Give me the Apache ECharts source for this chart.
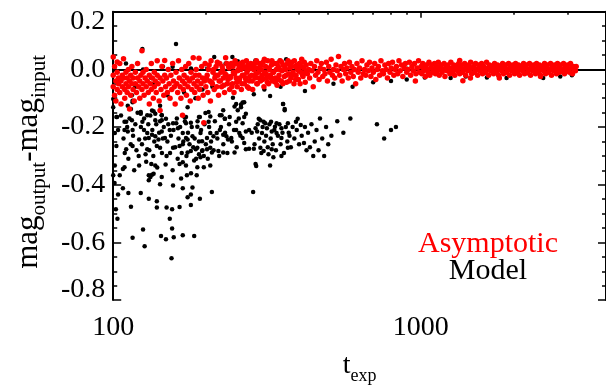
<!DOCTYPE html>
<html><head><meta charset="utf-8">
<script src="https://cdn.jsdelivr.net/npm/echarts@6/dist/echarts.min.js"></script>
<style>html,body{margin:0;padding:0;background:#fff}#c{width:606px;height:390px}</style>
</head><body><div id="c"></div>
<script>
const seriesNames = ['Asymptotic', 'Model'];
const xMajorTicks = [100, 1000];
const xMinorTicks = [200, 300, 400, 500, 600, 700, 800, 900, 2000, 3000];
const xRange = [100, 4000];
const yRange = [-0.8, 0.2];

const asymptoticLow = [
[100,-0.02],[100,-0.06],[100,0.043],[101,0.01],[101,-0.09],[102,-0.04],[102,-0.11],[103,0.026],[103,-0.01],[103,-0.07],[104,-0.03],[104,-0.05],[105,0.02],[105,-0.08],[106,-0.04],[106,-0.12],[107,-0.02],[107,-0.06],[108,0.037],[108,-0.03],[109,-0.07],[109,-0.1],[110,-0.01],[110,-0.05],[111,-0.03],[111,-0.08],[112,0.0],[112,-0.06],[113,-0.04],[113,-0.137],[114,-0.02],[114,-0.09],[115,-0.05],[115,0.01],[116,-0.07],[116,-0.03],[117,-0.11],[118,-0.01],[118,-0.05],[119,-0.08],[120,-0.03],[120,0.02],[121,-0.06],[122,-0.04],[122,-0.1],[123,-0.02],[124,0.065],[124,-0.07],[125,-0.05],[125,-0.01],[126,-0.09],[127,-0.03],[128,-0.06],[128,0.0],[129,-0.04],[130,-0.08],[131,-0.02],[131,-0.12],[132,-0.05],[133,0.02],[133,-0.07],[134,-0.03],[135,-0.1],[136,-0.01],[136,-0.06],[137,-0.04],[138,-0.08],[139,0.03],[139,-0.02],[140,-0.05],[141,-0.11],[142,-0.03],[142,-0.143],[143,-0.07],[144,0.01],[145,-0.04],[146,-0.09],[147,0.031],[147,-0.02],[148,-0.06],[149,-0.03],[150,-0.08],[151,0.0],[152,-0.05],[153,-0.1],[154,-0.02],[155,-0.07],[156,0.02],[157,-0.04],[158,-0.06],[159,-0.12],[160,-0.01],[161,-0.05],[162,-0.08],[163,0.03],[164,-0.03],[165,-0.06],[166,-0.1],[167,0.0],[168,-0.159],[168,-0.04],[169,-0.07],[170,-0.02],[171,-0.05],[172,0.01],[173,-0.09],[174,-0.03],[175,-0.06],[176,0.02],[177,-0.04],[178,-0.11],[179,-0.01],[180,-0.07],[181,-0.03],[182,0.04],[183,-0.05],[184,-0.08],[185,-0.02],[186,0.0],[187,-0.06],[188,-0.04],[189,-0.1],[190,0.039],[190,-0.02],[191,-0.07],[193,-0.05],[194,0.01],[195,-0.03],[196,-0.09],[197,-0.185],[198,-0.04],[199,0.02],[200,-0.06]
];
const asymptoticMid = [
[201,-0.03],[202,-0.02],[203,-0.08],[204,0.0],[205,0.015],[206,-0.04],[207,-0.11],[208,0.03],[209,-0.045],[210,-0.05],[211,-0.01],[212,0.0],[213,-0.07],[214,-0.03],[215,-0.02],[216,0.01],[217,-0.06],[218,0.025],[219,-0.02],[220,-0.09],[221,-0.04],[222,0.02],[223,-0.04],[224,-0.01],[225,-0.06],[226,0.01],[227,0.0],[228,-0.03],[229,-0.055],[230,-0.08],[231,-0.015],[232,0.04],[233,-0.02],[234,0.02],[235,-0.05],[236,-0.035],[237,0.01],[238,0.005],[239,-0.07],[240,-0.03],[241,-0.025],[242,0.02],[243,-0.06],[244,-0.05],[245,0.01],[246,-0.01],[247,-0.08],[248,-0.015],[249,0.03],[250,0.02],[251,-0.03],[252,-0.045],[253,-0.06],[254,-0.005],[255,0.0],[256,0.015],[257,-0.04],[258,-0.03],[259,0.02],[260,0.0],[261,-0.07],[262,-0.05],[263,-0.02],[264,0.025],[265,0.01],[266,-0.02],[267,-0.05],[268,0.005],[269,-0.03],[270,-0.035],[271,0.03],[272,-0.01],[273,-0.06],[274,0.015],[275,0.0],[276,-0.065],[277,-0.04],[278,-0.025],[280,0.02],[281,0.01],[282,-0.02],[283,-0.04],[284,-0.07],[286,0.0],[287,0.01],[288,0.02],[289,-0.03],[291,-0.015],[292,0.03],[293,-0.05],[294,-0.05],[296,0.005],[297,-0.01],[298,-0.03],[299,0.02],
[301,-0.04],[302,0.015],[303,0.0],[305,-0.02],[306,-0.035],[307,0.025],[309,-0.06],[310,0.035],[311,-0.01],[313,0.01],[314,-0.015],[315,-0.03],[317,-0.045],[318,0.03],[320,-0.05],[321,0.005],[322,0.0],[324,-0.02],[325,-0.03],[327,0.015],[328,0.03],[329,-0.04],[331,-0.01],[332,-0.01],[334,0.02],[336,-0.03],[337,-0.045],[339,0.0],[340,0.02],[341,-0.055],[344,0.01],[345,-0.035],[346,-0.02],[348,0.0],[349,0.03],[352,-0.04],[353,0.025],[354,-0.005],[356,-0.05],[357,0.015],[360,-0.025],[361,0.01],[363,0.0],[365,-0.02],[366,-0.045],[369,0.02],[370,0.03],[372,-0.015],[374,-0.04],[375,0.005],[378,-0.03],[379,0.01],[381,0.025],[383,-0.02],[384,-0.01],[387,-0.05],[388,0.03],[390,0.01],[392,-0.035],[393,-0.02],[396,0.015],[397,0.0],[400,-0.035],[401,-0.005],[403,0.02],[405,-0.05],[407,-0.01],[409,0.01],[410,0.035],[413,-0.02],[414,-0.025],[417,0.005],[418,0.025],[421,-0.045],[422,-0.01],[424,0.015],[428,-0.015],[432,0.0],[435,-0.03],[439,0.02],[443,-0.005],[447,-0.06],[451,0.01],[455,-0.02],[459,0.03],[463,-0.01],[467,-0.035],[471,0.005],[475,0.02],[480,-0.025],[484,0.0],[488,-0.015],[493,0.025],[497,-0.04],[502,0.01],[506,-0.01],[511,0.035],[516,-0.02],[520,0.0],[525,-0.03],[530,0.015],[535,-0.005],[540,0.045],[545,-0.02],[550,0.01],[555,-0.04],[560,0.0],[565,0.02],[570,-0.015],[575,0.005],[581,-0.03],[586,0.025],[592,-0.01],[597,0.01],[603,-0.025],[608,0.0],[614,-0.05],[620,0.02],[626,-0.01],[632,0.005],[638,-0.03],[644,0.03],[650,-0.015],[656,0.0],[662,-0.02],[668,0.015],[675,-0.005],[681,0.025],[688,-0.025],[694,0.005],[701,-0.01],[708,0.02],[714,-0.035],[721,0.0],[728,0.01],[735,-0.02],[742,0.03],[749,-0.005],[756,-0.015],[764,0.015],[771,0.0],[779,-0.03],[786,0.02],[794,-0.01],[801,0.005],[809,0.025],[817,-0.02],[825,0.0],[833,0.01],[841,-0.015],[849,0.03],[857,-0.005],[866,0.015],[874,-0.025],[883,0.005],[891,0.02],[900,-0.01],[909,0.0],[918,0.025],[927,-0.02],[936,0.01],[945,-0.005],[954,0.02],[960,-0.04],[964,-0.015],[973,0.005],[983,0.03],[992,-0.01]
];
const asymptoticHigh = [
[1002,0.01],[1008,-0.015],[1015,0.02],[1021,-0.005],[1028,0.005],[1035,-0.025],[1042,0.015],[1049,0.0],[1056,-0.01],[1063,0.025],[1070,-0.02],[1078,0.005],[1085,0.015],[1093,-0.01],[1100,0.0],[1108,0.02],[1116,-0.015],[1124,0.01],[1132,-0.005],[1140,0.025],[1148,-0.02],[1156,0.005],[1164,0.015],[1173,-0.01],[1181,0.0],[1190,0.02],[1198,-0.025],[1207,0.01],[1216,-0.005],[1225,0.015],[1234,0.0],[1243,-0.015],[1252,0.025],[1261,0.005],[1270,-0.01],[1280,0.015],[1289,-0.02],[1299,0.0],[1308,0.01],[1318,-0.005],[1328,0.02],[1338,0.031],[1338,-0.015],[1348,0.005],[1358,0.015],[1368,-0.01],[1370,-0.039],[1378,0.0],[1389,0.02],[1399,-0.02],[1410,0.01],[1420,-0.005],[1431,0.015],[1441,0.0],[1450,-0.03],[1452,0.025],[1463,-0.015],[1474,0.005],[1485,0.01],[1496,-0.01],[1507,0.02],[1518,0.0],[1530,-0.02],[1541,0.015],[1553,-0.005],[1564,0.005],[1576,0.02],[1588,-0.015],[1600,0.01],[1612,0.0],[1624,-0.01],[1636,0.025],[1648,0.005],[1661,-0.02],[1673,0.015],[1686,-0.005],[1698,0.01],[1711,0.0],[1724,-0.015],[1737,0.02],[1750,0.005],[1763,-0.01],[1776,0.015],[1790,-0.02],[1800,-0.03],[1803,0.0],[1817,0.01],[1831,-0.005],[1845,0.02],[1858,-0.015],[1872,0.005],[1886,0.015],[1901,-0.01],[1915,0.0],[1929,0.02],[1944,-0.02],[1958,0.01],[1973,-0.005],[1988,0.015],[2003,0.0],[2018,-0.015],[2033,0.02],[2048,0.005],[2064,-0.01],[2079,0.015],[2095,-0.02],[2110,0.0],[2126,0.01],[2142,-0.005],[2158,0.02],[2174,-0.015],[2191,0.005],[2207,0.015],[2224,-0.01],[2240,0.0],[2257,0.02],[2274,-0.02],[2291,0.01],[2308,-0.005],[2326,0.015],[2343,0.0],[2361,-0.015],[2378,0.02],[2396,0.005],[2414,-0.01],[2432,0.015],[2450,-0.025],[2451,-0.02],[2469,0.0],[2488,0.01],[2506,-0.005],[2525,0.02],[2544,-0.015],[2563,0.005],[2582,0.015],[2601,-0.01],[2621,0.0],[2641,0.02],[2660,-0.02],[2680,0.01],[2700,-0.005],[2720,0.015],[2741,0.0],[2761,-0.015],[2782,0.02],[2803,0.005],[2824,-0.01],[2845,0.015],[2866,-0.005],[2888,0.0],[2910,0.02],[2931,-0.015],[2953,0.01],[2975,-0.005],[2998,0.015],[3020,0.0],[3043,-0.01],[3066,0.02],[3089,0.005],[3112,-0.015],[3135,0.01],[3158,0.0],[3182,-0.005],[3200,0.01]
];

const modelCloud = [
[102,-0.109],[115.6,-0.114],[114.2,-0.137],[122.9,-0.148],[135.3,-0.145],[143.8,-0.159],[174.5,-0.131],[204.2,-0.148],[227.8,-0.142],[248,-0.129],[254,-0.142],[260.3,-0.122],[266.6,-0.114],[269.9,-0.154],[356.6,-0.12],[360.9,-0.142],
[102.9,-0.165],[110.2,-0.182],[115,-0.176],[124.4,-0.182],[129,-0.159],[137,-0.176],[143.8,-0.176],[148.4,-0.171],[160.3,-0.187],[172.4,-0.165],[178.8,-0.185],[191.3,-0.165],[199.4,-0.151],[206.8,-0.163],[222.2,-0.159],[230.6,-0.171],[239.1,-0.165],[251,-0.182],[263.4,-0.187],[300.9,-0.176],[312,-0.187],[326,-0.182],[335.6,-0.199],[352.3,-0.204],[369.7,-0.187],[392.7,-0.182],[290.2,-0.204],
[101.2,-0.221],[103.7,-0.21],[108.8,-0.21],[111.5,-0.215],[115.6,-0.21],[121.4,-0.243],[125.9,-0.21],[129,-0.221],[130.5,-0.238],[133.7,-0.227],[137,-0.232],[140.3,-0.243],[143.8,-0.215],[147.3,-0.238],[152.7,-0.21],[162.3,-0.204],[168.3,-0.221],[172.4,-0.238],[174.5,-0.243],[181,-0.232],[187.7,-0.199],[192.2,-0.221],[194.5,-0.249],[201.8,-0.238],[206.8,-0.221],[211.8,-0.232],[217,-0.221],[222.2,-0.21],[227.8,-0.227],[233.3,-0.232],[236.2,-0.243],[242,-0.238],[251,-0.21],[257,-0.221],[263.4,-0.238],[266.6,-0.255],[269.9,-0.215],[276.5,-0.21],[293.7,-0.215],[304.6,-0.221],[315.9,-0.204],[327.6,-0.215],[339.7,-0.221],[352.3,-0.238],[374.2,-0.23],[417,-0.255],
[102.4,-0.266],[110.2,-0.277],[115.6,-0.266],[127.4,-0.294],[129,-0.277],[138.6,-0.266],[142,-0.272],[149.1,-0.3],[156.5,-0.272],[164.3,-0.266],[168.3,-0.26],[174.5,-0.288],[178.8,-0.283],[185.5,-0.277],[187.7,-0.272],[190,-0.294],[192.2,-0.305],[194.5,-0.283],[197,-0.3],[201.8,-0.277],[206.8,-0.272],[209.3,-0.288],[219.7,-0.283],[227.8,-0.288],[248,-0.288],[269.9,-0.277],[276.5,-0.275],[286.5,-0.275],[300.9,-0.272],[308.3,-0.283],[319.7,-0.294],[327.6,-0.277],[331.6,-0.305],[352.3,-0.3],[369.7,-0.272],
[101.2,-0.333],[107.5,-0.345],[108.8,-0.339],[121.4,-0.333],[133,-0.328],[137,-0.333],[164.3,-0.328],[168.3,-0.322],[172.4,-0.333],[183.3,-0.316],[187.7,-0.339],[197,-0.339],[206.8,-0.333],[290.2,-0.328],[291.6,-0.335],[323.6,-0.333],[100,-0.367],[105,-0.367],[130.5,-0.367],[132.1,-0.373],[133.7,-0.365],[135.3,-0.362],[143.8,-0.373],[166.2,-0.378],[173.6,-0.367],[186.8,-0.367],
[130.5,-0.384],[142,-0.398],[156.5,-0.403],[168.3,-0.412],[181,-0.41],[209.3,-0.425],[285,-0.425],[107.5,-0.412],[112,-0.429],[122.9,-0.429],[101,-0.394],
[103.7,-0.434],[130.5,-0.449],[138.6,-0.457],[174.5,-0.443],[178.8,-0.434],[191.3,-0.449],[114.2,-0.476],[138.6,-0.479],[149.1,-0.479],[155.4,-0.485],[164.3,-0.477],[178.8,-0.47],[102,-0.485],
[103.2,-0.518],[152.7,-0.518],[125,-0.555],[155.4,-0.552],[115.6,-0.584],[143,-0.578],[148.4,-0.589],[157.3,-0.582],[168.3,-0.575],[183.3,-0.578],[126.5,-0.613],[154.7,-0.655]
];
const modelDense = [
[106,-0.16],[108,-0.24],[109,-0.29],[111,-0.2],[112,-0.31],[113,-0.17],[114,-0.26],[116,-0.23],[117,-0.35],[118,-0.19],[119,-0.28],[120,-0.15],[121,-0.3],[123,-0.2],[124,-0.26],[126,-0.17],[127,-0.24],[128,-0.32],[130,-0.19],[131,-0.28],[132,-0.16],[134,-0.21],[135,-0.3],[136,-0.25],[138,-0.19],[139,-0.34],[141,-0.22],[142,-0.18],[144,-0.29],[145,-0.24],[146,-0.2],[148,-0.33],[150,-0.25],[151,-0.19],[153,-0.29],[154,-0.23],[156,-0.35],[157,-0.21],[159,-0.27],[161,-0.17],[162,-0.31],[163,-0.24],[165,-0.2],[167,-0.29],[169,-0.25],[171,-0.18],[173,-0.3],[175,-0.22],[177,-0.26],[179,-0.36],[180,-0.2],[182,-0.27],[184,-0.24],[186,-0.31],[188,-0.18],[190,-0.25],[193,-0.21],[195,-0.28],[198,-0.19],[200,-0.26],[203,-0.31],[205,-0.2],[208,-0.25],[212,-0.28],[214,-0.18],[218,-0.24],[221,-0.3],[224,-0.2],[228,-0.26],[231,-0.22],[235,-0.29],[238,-0.19],[243,-0.25],[247,-0.21],[252,-0.27],[256,-0.17],[259,-0.23],
[282,-0.22],[288,-0.26],[295,-0.19],[298,-0.24],[303,-0.29],[306,-0.2],[310,-0.25],[314,-0.23],[318,-0.27],[322,-0.19],[325,-0.24],[330,-0.26],[334,-0.21],[338,-0.28],[343,-0.23],[347,-0.19],[350,-0.26],[355,-0.22],[359,-0.29],[364,-0.2],[368,-0.25],[372,-0.22],[378,-0.27],[383,-0.2],[388,-0.24],[395,-0.21],[402,-0.26],[410,-0.23],[420,-0.2],[425,-0.28]
];
const modelUpper = [
[115.6,-0.109],[111.5,-0.126],[105,-0.081],[100,-0.103],[100,-0.131],[102.4,-0.165],[108.8,-0.182],[133.7,-0.143],[137,-0.154],[122.9,-0.154],[142,-0.126],[143.8,-0.159],[156.5,-0.187],[170.4,-0.165],[172.4,-0.187],[190,-0.165],[204.2,-0.182],[225,-0.159],[230.6,-0.171],[245,-0.098],[251,-0.12],[260.3,-0.131],[263.4,-0.115],[266.6,-0.165],[286.5,-0.086],[297.3,-0.171],[308.3,-0.182],[323.6,-0.092],[339.7,-0.187],[356.6,-0.12],[360.9,-0.137],[397.8,-0.171],[407,-0.193],
[124.4,0.071],[160,0.088],[213,0.043],[244,0.043],[254,0.028],[232,0.02],[290,0.031],[336,0.02],[348,0.031],[365,0.035],[156,0.009],[179,0.003],
[101,0.0],[105,-0.04],[110,0.02],[118,-0.06],[125,0.0],[133,-0.03],[135,-0.05],[145,0.01],[150,-0.09],[170,-0.08],[185,-0.1],[115,-0.09],[195,-0.07],[210,-0.06]
];
const modelTail = [
[430,-0.22],[436,-0.27],[441,-0.19],[447,-0.3],[452,-0.25],[458,-0.21],[465,-0.28],[470,-0.17],[478,-0.24],[485,-0.3],[492,-0.2],[500,-0.26],[512,-0.23],[535,-0.18],[560,-0.22],[590,-0.17],[720,-0.19],[760,-0.24],[800,-0.21],[830,-0.2],
[310,-0.07],[350,-0.06],[420,-0.075],[520,-0.05],[600,-0.06],[700,-0.045],[800,-0.04],[900,-0.035],
[1030,-0.028],[1100,0.0],[1250,-0.03],[1400,-0.025],[1640,-0.028],[1900,-0.03],[2230,-0.013],[2500,-0.03],[2840,-0.025],[3100,-0.02]
];

const FONT = '"Liberation Serif","Times New Roman",serif';
const asymptotic = asymptoticLow.concat(asymptoticMid, asymptoticHigh);
const model = modelCloud.concat(modelDense, modelUpper, modelTail);

const chart = echarts.init(document.getElementById('c'), null, {renderer: 'canvas'});
const lineStyle = {color: '#000', width: 2};
function logAxis(position, ticks, len, showLine, showLabel, extra) {
  return Object.assign({
    type: 'log', logBase: 10, min: xRange[0], max: xRange[1], position: position,
    axisLine: {show: showLine, lineStyle: lineStyle},
    axisTick: {show: true, inside: true, length: len, customValues: ticks, lineStyle: {color: '#000', width: 1.5}},
    axisLabel: showLabel ? {
      show: true, customValues: ticks, margin: 14, fontFamily: FONT, fontSize: 28, color: '#000',
      formatter: v => String(Math.round(v))
    } : {show: false},
    splitLine: {show: false}, minorTick: {show: false}, minorSplitLine: {show: false}
  }, extra || {});
}
function linAxis(position, showLabel, extra) {
  return Object.assign({
    type: 'value', min: yRange[0], max: yRange[1], interval: 0.2, position: position,
    axisLine: {show: true, lineStyle: lineStyle},
    axisTick: {show: true, inside: true, length: 8, lineStyle: {color: '#000', width: 1.5}},
    minorTick: {show: true, splitNumber: 4, length: 4, lineStyle: {color: '#000', width: 1.5}},
    axisLabel: showLabel ? {
      show: true, margin: 8, fontFamily: FONT, fontSize: 28, color: '#000', lineHeight: 20,
      verticalAlignMaxLabel: 'top', verticalAlignMinLabel: 'bottom',
      formatter: v => v.toFixed(1)
    } : {show: false},
    splitLine: {show: false}
  }, extra || {});
}

chart.setOption({
  animation: false,
  backgroundColor: '#fff',
  grid: {left: 98.5, top: 11.7, width: 509, height: 296.6, containLabel: false},
  xAxis: [
    logAxis('bottom', xMajorTicks, 6, true, true, {
      name: '{m|t}{s|exp}', nameLocation: 'middle', nameGap: 42,
      nameTextStyle: {rich: {
        m: {fontFamily: FONT, fontSize: 28, color: '#000', lineHeight: 28},
        s: {fontFamily: FONT, fontSize: 18, color: '#000', lineHeight: 18, padding: [20, 0, 0, 0]}
      }}
    }),
    logAxis('bottom', xMinorTicks, 3, false, false),
    logAxis('top', xMajorTicks, 6, true, false),
    logAxis('top', xMinorTicks, 3, false, false)
  ],
  yAxis: [
    linAxis('left', true, {
      name: '{m|mag}{s|output}{m|-mag}{s|input}', nameLocation: 'middle', nameRotate: 90, nameGap: 62,
      nameTextStyle: {padding: [0, 12, 0, 0], rich: {
        m: {fontFamily: FONT, fontSize: 31, color: '#000', lineHeight: 31},
        s: {fontFamily: FONT, fontSize: 21, color: '#000', lineHeight: 21, padding: [21, 0, 0, 0]}
      }}
    }),
    linAxis('right', false)
  ],
  graphic: [
    {type: 'text', x: 488, y: 244, style: {text: seriesNames[0], fill: '#ff0000', font: '30px ' + FONT, align: 'center', verticalAlign: 'middle'}},
    {type: 'text', x: 488, y: 271, style: {text: seriesNames[1], fill: '#000', font: '30px ' + FONT, align: 'center', verticalAlign: 'middle'}}
  ],
  series: [
    {name: seriesNames[1], type: 'scatter', xAxisIndex: 0, yAxisIndex: 0, data: model, symbolSize: 4.5,
     itemStyle: {color: '#000', opacity: 1}, silent: true, z: 2},
    {name: seriesNames[0], type: 'scatter', xAxisIndex: 0, yAxisIndex: 0, data: asymptotic, symbolSize: 5.5,
     itemStyle: {color: '#ff0000', opacity: 1}, silent: true, z: 3}
  ]
});
</script></body></html>
